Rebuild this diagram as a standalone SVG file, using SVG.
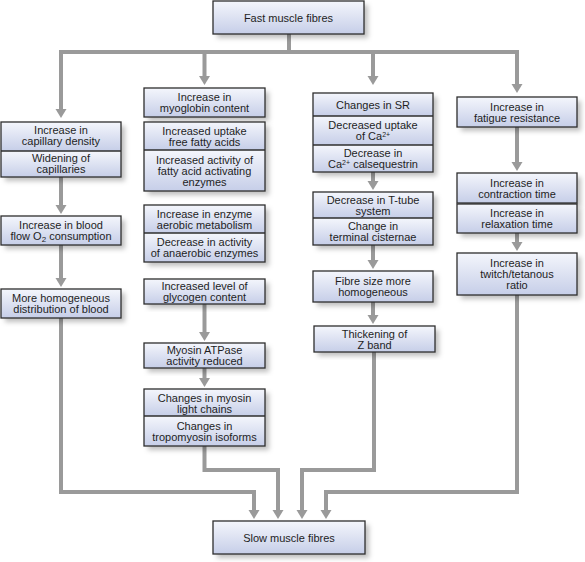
<svg xmlns="http://www.w3.org/2000/svg" width="585" height="562" viewBox="0 0 585 562">
<style>
.bx{fill:url(#g);}
.ol{fill:none;stroke:#2e2e2e;stroke-width:1.3;}
.sh{fill:#fff;filter:url(#ds);}
.dv{stroke:#2e2e2e;stroke-width:1.3;}
text{font-family:"Liberation Sans",Arial,sans-serif;font-size:11px;fill:#1e1e1e;text-anchor:middle;}
.c{fill:none;stroke:#9a9a9a;stroke-width:4;stroke-linejoin:miter;marker-end:url(#ah);}
.cn{fill:none;stroke:#9a9a9a;stroke-width:4;stroke-linejoin:miter;}
.sub{font-size:8px;}
.sup{font-size:7px;}
</style>
<defs>
<linearGradient id="g" x1="0" y1="0" x2="0" y2="1">
<stop offset="0" stop-color="#f4f6fc"/>
<stop offset="1" stop-color="#c6cee8"/>
</linearGradient>
<filter id="ds" x="-10%" y="-10%" width="130%" height="140%">
<feDropShadow dx="4" dy="4" stdDeviation="2.5" flood-color="#000" flood-opacity="0.25"/>
</filter>
<marker id="ah" viewBox="0 -6 10 12" markerWidth="10" markerHeight="12" refX="0" refY="0" orient="auto" markerUnits="userSpaceOnUse">
<path d="M0,-5.5 L9,0 L0,5.5 Z" fill="#9a9a9a"/>
</marker>
</defs>
<rect width="585" height="562" fill="#fff"/>

<g id="connectors">
<path class="cn" d="M289 34 V52"/>
<path class="c" d="M289 52 H61 V109"/>
<path class="c" d="M289 52 H204.5 V76"/>
<path class="c" d="M289 52 H373 V76"/>
<path class="c" d="M289 52 H517 V84"/>
<path class="c" d="M61 177 V205"/>
<path class="c" d="M61 245 V278"/>
<path class="c" d="M61 318 V492 H254 V510"/>
<path class="c" d="M204.5 304 V332"/>
<path class="c" d="M204.5 368 V378"/>
<path class="c" d="M204.5 446 V470 H278 V510"/>
<path class="c" d="M373 172 V181"/>
<path class="c" d="M373 245 V260"/>
<path class="c" d="M373 302 V315"/>
<path class="c" d="M374 352 V470 H302 V510"/>
<path class="c" d="M517 127 V162"/>
<path class="c" d="M517 233 V242"/>
<path class="c" d="M517 295 V492 H326 V510"/>
</g>

<g id="fast">
<rect class="sh" x="213" y="1" width="151" height="33"/>
<rect class="bx" x="213" y="1" width="151" height="33"/>
<rect class="ol" x="213" y="1" width="151" height="33"/>
<text x="288.5" y="21.5">Fast muscle fibres</text>
</g>

<g id="capillary">
<rect class="sh" x="1" y="122" width="120" height="55"/>
<rect class="bx" x="1" y="122" width="120" height="29"/>
<rect class="bx" x="1" y="151" width="120" height="26"/>
<rect class="ol" x="1" y="122" width="120" height="55"/>
<line class="dv" x1="1" y1="151" x2="121" y2="151"/>
<text x="61" y="134">Increase in</text>
<text x="61" y="145">capillary density</text>
<text x="61" y="161.5">Widening of</text>
<text x="61" y="172.5">capillaries</text>
</g>

<g id="bloodflow">
<rect class="sh" x="1" y="216" width="120" height="29"/>
<rect class="bx" x="1" y="216" width="120" height="29"/>
<rect class="ol" x="1" y="216" width="120" height="29"/>
<text x="61" y="229">Increase in blood</text>
<text x="61" y="240">flow O<tspan class="sub" dy="2">2</tspan><tspan dy="-2"> consumption</tspan></text>
</g>

<g id="distribution">
<rect class="sh" x="1" y="289" width="120" height="29"/>
<rect class="bx" x="1" y="289" width="120" height="29"/>
<rect class="ol" x="1" y="289" width="120" height="29"/>
<text x="61" y="302">More homogeneous</text>
<text x="61" y="313">distribution of blood</text>
</g>

<g id="myoglobin">
<rect class="sh" x="144" y="88" width="121" height="29"/>
<rect class="bx" x="144" y="88" width="121" height="29"/>
<rect class="ol" x="144" y="88" width="121" height="29"/>
<text x="204.5" y="101">Increase in</text>
<text x="204.5" y="112">myoglobin content</text>
</g>

<g id="fattyacids">
<rect class="sh" x="144" y="122" width="121" height="69"/>
<rect class="bx" x="144" y="122" width="121" height="28"/>
<rect class="bx" x="144" y="150" width="121" height="41"/>
<rect class="ol" x="144" y="122" width="121" height="69"/>
<line class="dv" x1="144" y1="150" x2="265" y2="150"/>
<text x="204.5" y="134.5">Increased uptake</text>
<text x="204.5" y="145.5">free fatty acids</text>
<text x="204.5" y="163.5">Increased activity of</text>
<text x="204.5" y="174.5">fatty acid activating</text>
<text x="204.5" y="185.5">enzymes</text>
</g>

<g id="enzymes">
<rect class="sh" x="144" y="205" width="121" height="57"/>
<rect class="bx" x="144" y="205" width="121" height="28"/>
<rect class="bx" x="144" y="233" width="121" height="29"/>
<rect class="ol" x="144" y="205" width="121" height="57"/>
<line class="dv" x1="144" y1="233" x2="265" y2="233"/>
<text x="204.5" y="217.5">Increase in enzyme</text>
<text x="204.5" y="228.5">aerobic metabolism</text>
<text x="204.5" y="246">Decrease in activity</text>
<text x="204.5" y="257">of anaerobic enzymes</text>
</g>

<g id="glycogen">
<rect class="sh" x="144" y="279" width="121" height="25"/>
<rect class="bx" x="144" y="279" width="121" height="25"/>
<rect class="ol" x="144" y="279" width="121" height="25"/>
<text x="204.5" y="290">Increased level of</text>
<text x="204.5" y="301">glycogen content</text>
</g>

<g id="atpase">
<rect class="sh" x="144" y="343" width="121" height="25"/>
<rect class="bx" x="144" y="343" width="121" height="25"/>
<rect class="ol" x="144" y="343" width="121" height="25"/>
<text x="204.5" y="354">Myosin ATPase</text>
<text x="204.5" y="365">activity reduced</text>
</g>

<g id="myosinchains">
<rect class="sh" x="144" y="389" width="121" height="57"/>
<rect class="bx" x="144" y="389" width="121" height="27"/>
<rect class="bx" x="144" y="416" width="121" height="30"/>
<rect class="ol" x="144" y="389" width="121" height="57"/>
<line class="dv" x1="144" y1="416" x2="265" y2="416"/>
<text x="204.5" y="401.5">Changes in myosin</text>
<text x="204.5" y="412.5">light chains</text>
<text x="204.5" y="429.5">Changes in</text>
<text x="204.5" y="440.5">tropomyosin isoforms</text>
</g>

<g id="sr">
<rect class="sh" x="313" y="93" width="120" height="79"/>
<rect class="bx" x="313" y="93" width="120" height="23"/>
<rect class="bx" x="313" y="116" width="120" height="29"/>
<rect class="bx" x="313" y="145" width="120" height="27"/>
<rect class="ol" x="313" y="93" width="120" height="79"/>
<line class="dv" x1="313" y1="116" x2="433" y2="116"/>
<line class="dv" x1="313" y1="145" x2="433" y2="145"/>
<text x="373" y="108.5">Changes in SR</text>
<text x="373" y="129">Decreased uptake</text>
<text x="373" y="140">of Ca<tspan class="sup" dy="-3">2+</tspan></text>
<text x="373" y="157">Decrease in</text>
<text x="373" y="168">Ca<tspan class="sup" dy="-3">2+</tspan><tspan dy="3"> calsequestrin</tspan></text>
</g>

<g id="ttube">
<rect class="sh" x="313" y="192" width="120" height="53"/>
<rect class="bx" x="313" y="192" width="120" height="26"/>
<rect class="bx" x="313" y="218" width="120" height="27"/>
<rect class="ol" x="313" y="192" width="120" height="53"/>
<line class="dv" x1="313" y1="218" x2="433" y2="218"/>
<text x="373" y="203.5">Decrease in T-tube</text>
<text x="373" y="214.5">system</text>
<text x="373" y="230">Change in</text>
<text x="373" y="241">terminal cisternae</text>
</g>

<g id="fibresize">
<rect class="sh" x="313" y="271" width="120" height="31"/>
<rect class="bx" x="313" y="271" width="120" height="31"/>
<rect class="ol" x="313" y="271" width="120" height="31"/>
<text x="373" y="285">Fibre size more</text>
<text x="373" y="296">homogeneous</text>
</g>

<g id="zband">
<rect class="sh" x="314" y="326" width="121" height="26"/>
<rect class="bx" x="314" y="326" width="121" height="26"/>
<rect class="ol" x="314" y="326" width="121" height="26"/>
<text x="374.5" y="337.5">Thickening of</text>
<text x="374.5" y="348.5">Z band</text>
</g>

<g id="fatigue">
<rect class="sh" x="457" y="97" width="120" height="30"/>
<rect class="bx" x="457" y="97" width="120" height="30"/>
<rect class="ol" x="457" y="97" width="120" height="30"/>
<text x="517" y="110.5">Increase in</text>
<text x="517" y="121.5">fatigue resistance</text>
</g>

<g id="contraction">
<rect class="sh" x="457" y="173" width="120" height="30"/>
<rect class="bx" x="457" y="173" width="120" height="30"/>
<rect class="ol" x="457" y="173" width="120" height="30"/>
<text x="517" y="186.5">Increase in</text>
<text x="517" y="197.5">contraction time</text>
</g>

<g id="relaxation">
<rect class="sh" x="457" y="204" width="120" height="29"/>
<rect class="bx" x="457" y="204" width="120" height="29"/>
<rect class="ol" x="457" y="204" width="120" height="29"/>
<text x="517" y="217">Increase in</text>
<text x="517" y="228">relaxation time</text>
</g>

<g id="twitch">
<rect class="sh" x="457" y="253" width="120" height="42"/>
<rect class="bx" x="457" y="253" width="120" height="42"/>
<rect class="ol" x="457" y="253" width="120" height="42"/>
<text x="517" y="267">Increase in</text>
<text x="517" y="278">twitch/tetanous</text>
<text x="517" y="289">ratio</text>
</g>

<g id="slow">
<rect class="sh" x="213" y="521" width="152" height="33"/>
<rect class="bx" x="213" y="521" width="152" height="33"/>
<rect class="ol" x="213" y="521" width="152" height="33"/>
<text x="289" y="541.5">Slow muscle fibres</text>
</g>
</svg>
